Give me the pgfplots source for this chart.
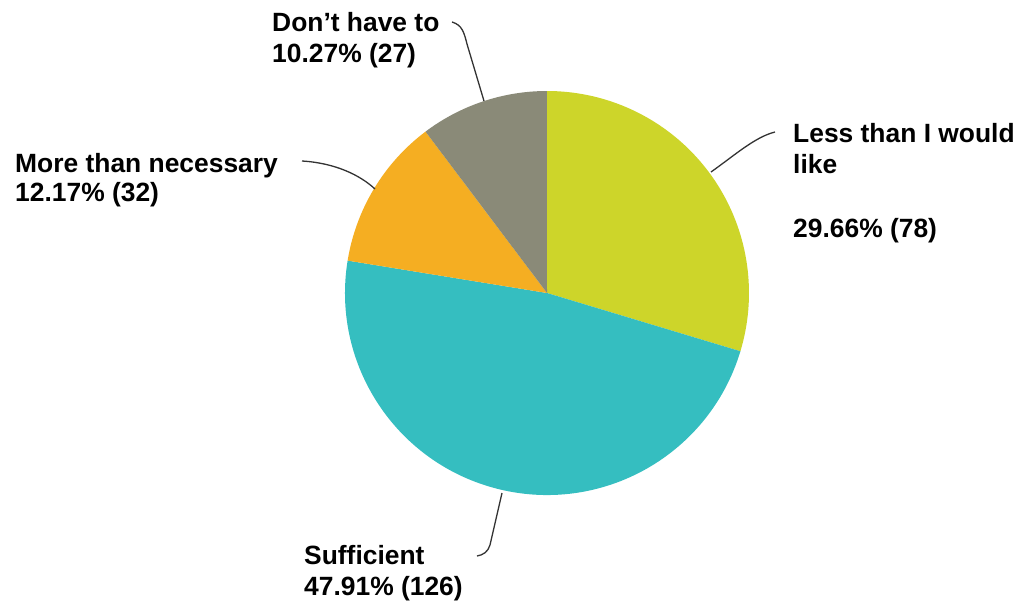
\documentclass[border=0pt]{standalone}
\usepackage{pgfplots}
\pgfplotsset{compat=1.18}
\usepackage{fontspec}
\setmainfont{Liberation Sans}
\definecolor{lessc}{HTML}{CDD52A}
\definecolor{suffc}{HTML}{35BEC0}
\definecolor{morec}{HTML}{F5AE22}
\definecolor{dontc}{HTML}{8A8A78}
\begin{document}
\begin{tikzpicture}
\begin{axis}[
  scale only axis, width=1019bp, height=601bp,
  xmin=0, xmax=1019, ymin=0, ymax=601, y dir=reverse,
  hide axis, clip=false]
% counts: Less than I would like 78, Sufficient 126, More than necessary 32, Don't have to 27 (total 263)
\pgfmathsetmacro{\tot}{78+126+32+27}
\pgfmathsetmacro{\aA}{90}
\pgfmathsetmacro{\aB}{\aA-78/\tot*360}
\pgfmathsetmacro{\aC}{\aB-126/\tot*360}
\pgfmathsetmacro{\aD}{\aC-32/\tot*360}
\pgfmathsetmacro{\aE}{\aD-27/\tot*360}
\fill[lessc] (axis cs:547,293) -- ++(\aA:202bp) arc[start angle=\aA, end angle=\aB, radius=202bp] -- cycle;
\fill[suffc] (axis cs:547,293) -- ++(\aB:202bp) arc[start angle=\aB, end angle=\aC, radius=202bp] -- cycle;
\fill[morec] (axis cs:547,293) -- ++(\aC:202bp) arc[start angle=\aC, end angle=\aD, radius=202bp] -- cycle;
\fill[dontc] (axis cs:547,293) -- ++(\aD:202bp) arc[start angle=\aD, end angle=\aE, radius=202bp] -- cycle;
% leader lines
\draw[line width=1.3bp, black!80] (axis cs:711,172) .. controls (axis cs:735,155) and (axis cs:755,137) .. (axis cs:775,132);
\draw[line width=1.3bp, black!80] (axis cs:302,161) .. controls (axis cs:335,163) and (axis cs:360,175) .. (axis cs:375,189);
\draw[line width=1.3bp, black!80] (axis cs:452,22) .. controls (axis cs:462,25) and (axis cs:464,32) .. (axis cs:467,44) -- (axis cs:484,101);
\draw[line width=1.3bp, black!80] (axis cs:502,493) -- (axis cs:490,545) .. controls (axis cs:488,552) and (axis cs:483,555) .. (axis cs:477,556);
% labels
\begin{scope}[every node/.style={anchor=base west, inner sep=0pt, font=\fontsize{26.5}{31}\selectfont\bfseries}]
\node at (axis cs:793,142) {Less than I would};
\node at (axis cs:793,173) {like};
\node at (axis cs:793,237) {29.66\% (78)};
\node at (axis cs:15,172) {More than necessary};
\node at (axis cs:15,201) {12.17\% (32)};
\node at (axis cs:272,32) {Don't have to};
\node at (axis cs:272,63) {10.27\% (27)};
\node at (axis cs:304,564) {Sufficient};
\node at (axis cs:304,595) {47.91\% (126)};
\end{scope}
\end{axis}
\pgfresetboundingbox
\useasboundingbox (0,0) rectangle (1019bp,601bp);
\end{tikzpicture}
\end{document}
